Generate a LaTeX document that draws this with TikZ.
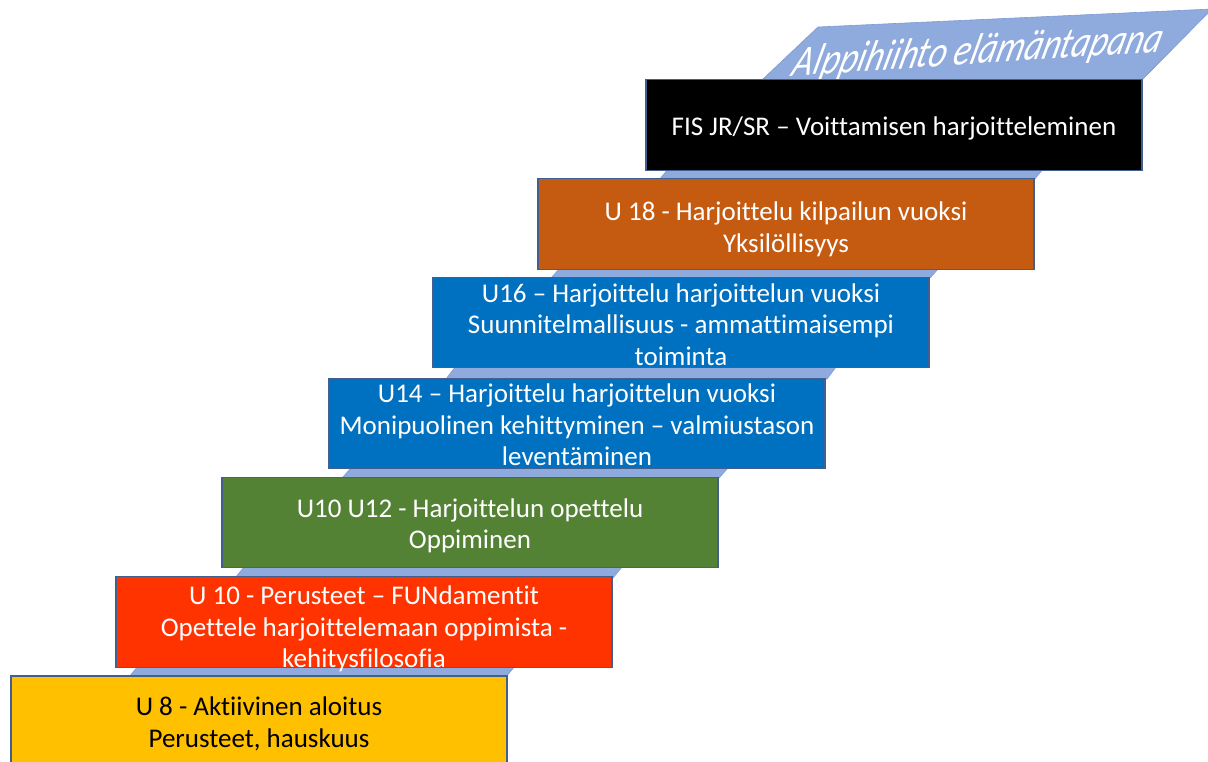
\documentclass[tikz,border=0pt]{standalone}
\usepackage{fontspec}
\setmainfont{Carlito}[Ligatures={NoCommon}]
\usetikzlibrary{calc}
\definecolor{cyellow}{HTML}{FFC000}
\definecolor{cred}{HTML}{FF3300}
\definecolor{cgreen}{HTML}{548235}
\definecolor{cblue}{HTML}{0070C0}
\definecolor{corange}{HTML}{C55A11}
\definecolor{cblack}{HTML}{000000}
\definecolor{ctread}{HTML}{8FAADC}
\definecolor{ctreadline}{HTML}{7D9AD2}
\definecolor{cborder}{HTML}{41608F}
\newcommand{\treadshape}[4]{\filldraw[tread] (#1+13,#4+1) -- (#3+1,#4+1) -- (#3+10,#2-1) -- (#1+22,#2-1) -- cycle;}
\newcommand{\steptext}[2]{\raisebox{#1}[0pt][0pt]{\begin{tabular}{@{}c@{}}#2\end{tabular}}}
\begin{document}
\begin{tikzpicture}[x=1pt,y=-1pt,
  stepbox/.style={draw=cborder, line width=1.2pt, minimum width=496pt, minimum height=90.5pt, inner sep=0pt, text=white, font=\fontsize{27}{31.5}\selectfont},
  tread/.style={fill=ctread, draw=ctreadline, line width=0.6pt}]
\useasboundingbox (0,0) rectangle (1208,762);
% treads
\treadshape{116}{667}{505}{676}
\treadshape{222}{568}{612}{577}
\treadshape{329}{469}{718}{477}
\treadshape{433}{368}{826}{378}
\treadshape{538}{269}{929}{277}
\treadshape{646}{170}{1033}{179}
% top platform
\filldraw[tread] (762,80) -- (818,27) -- (1212,9) -- (1142,80) -- cycle;
\node[text=white, font=\fontsize{44}{44}\selectfont\itshape, xscale=0.78, xslant=0.4, rotate=3, anchor=base] (title) at (975,64) {Alppihiihto elämäntapana};
% boxes
\node[stepbox, fill=cyellow, text=black, minimum height=91pt] (b1) at (259,721.5) {\steptext{-9.75pt}{U 8 - Aktiivinen aloitus\\Perusteet, hauskuus}};
\node[stepbox, fill=cred] (b2) at (364,622) {\steptext{-14pt}{U 10 - Perusteet – FUNdamentit\\Opettele harjoittelemaan oppimista -\\kehitysfilosofia}};
\node[stepbox, fill=cgreen] (b3) at (470,522.5) {\steptext{-10.25pt}{U10 U12 - Harjoittelun opettelu\\Oppiminen}};
\node[stepbox, fill=cblue] (b4) at (577,423.5) {\steptext{-10.75pt}{U14 – Harjoittelu harjoittelun vuoksi\\Monipuolinen kehittyminen – valmiustason\\leventäminen}};
\node[stepbox, fill=cblue] (b5) at (681,322.5) {\steptext{-11.25pt}{U16 – Harjoittelu harjoittelun vuoksi\\Suunnitelmallisuus - ammattimaisempi\\toiminta}};
\node[stepbox, fill=corange] (b6) at (786,224) {\steptext{-12.25pt}{U 18 - Harjoittelu kilpailun vuoksi\\Yksilöllisyys}};
\node[stepbox, fill=cblack] (b7) at (894,125) {\steptext{-10.5pt}{FIS JR/SR – Voittamisen harjoitteleminen}};
\end{tikzpicture}
\end{document}
